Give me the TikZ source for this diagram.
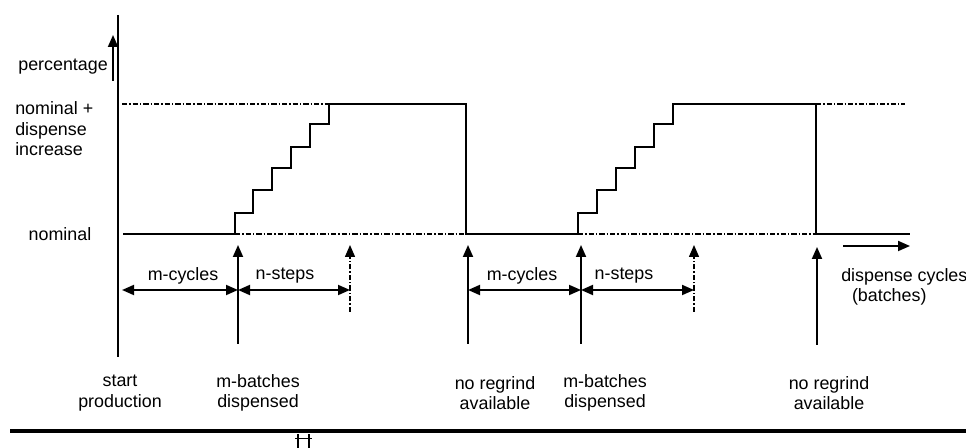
\documentclass[tikz,border=0pt]{standalone}
\usepackage{fontspec}
\setmainfont{Liberation Sans}
\usetikzlibrary{arrows.meta}
\begin{document}
\begin{tikzpicture}[x=0.75pt,y=-0.75pt,
  ln/.style={line width=1.4pt},
  dd/.style={line width=1.1pt,dash pattern=on 4pt off 1.5pt on 1pt off 1.5pt},
  tip/.style={-{Triangle[length=9pt,width=7.5pt]}},
  both/.style={{Triangle[length=9pt,width=7.5pt]}-{Triangle[length=9pt,width=7.5pt]}},
  lbl/.style={font=\fontsize{13.4}{15.3}\selectfont,inner sep=0pt,align=center}]
\useasboundingbox (0,0) rectangle (966,448);
% axis
\coordinate (axT) at (118,15);
\coordinate (axB) at (118,357);
\draw[ln] (axT) -- (axB);
\coordinate (pA) at (113,81);
\coordinate (pB) at (113,35);
\draw[ln,tip] (pA) -- (pB);
\node[lbl,anchor=east] (perc) at (108,67) {percentage};
\node[lbl,anchor=west,align=left] (nomp) at (15,129) {nominal +\\dispense\\increase};
\node[lbl] (nom) at (60,234) {nominal};
% reference lines
\draw[dd] (122,104) -- (329,104);
\draw[dd] (816,104) -- (905,104);
\draw[dd] (235,234) -- (466,234);
\draw[dd] (578,234) -- (816,234);
% signal
\draw[ln,line join=miter] (123,234) -- (235,234)
  -- (235,213) -- (253,213) -- (253,190) -- (272,190) -- (272,168) -- (291,168)
  -- (291,147) -- (310,147) -- (310,124) -- (329,124) -- (329,104) -- (466,104)
  -- (466,234) -- (578,234)
  -- (578,213) -- (597,213) -- (597,190) -- (616,190) -- (616,168) -- (635,168)
  -- (635,147) -- (654,147) -- (654,124) -- (673,124) -- (673,104) -- (816,104)
  -- (816,234) -- (910,234);
% event arrows
\coordinate (a1b) at (238,344); \coordinate (a1t) at (238,245);
\coordinate (d1b) at (350,312); \coordinate (d1t) at (350,245);
\coordinate (a2b) at (468,344); \coordinate (a2t) at (468,245);
\coordinate (a3b) at (581,344); \coordinate (a3t) at (581,245);
\coordinate (d2b) at (694,312); \coordinate (d2t) at (694,245);
\coordinate (a4b) at (817,345); \coordinate (a4t) at (817,247);
\draw[ln,tip] (a1b) -- (a1t);
\draw[ln,tip] (a2b) -- (a2t);
\draw[ln,tip] (a3b) -- (a3t);
\draw[ln,tip] (a4b) -- (a4t);
\draw[dd,tip] (d1b) -- (d1t);
\draw[dd,tip] (d2b) -- (d2t);
% spans
\coordinate (h0) at (122,290); \coordinate (h1) at (238,290); \coordinate (h2) at (350,290);
\coordinate (h3) at (468,290); \coordinate (h4) at (581,290); \coordinate (h5) at (694,290);
\draw[ln,both] (h0) -- (h1);
\draw[ln,both] (h1) -- (h2);
\draw[ln,both] (h3) -- (h4);
\draw[ln,both] (h4) -- (h5);
\node[lbl] (mc1) at (183,276) {m-cycles};
\node[lbl] (ns1) at (285,276) {n-steps};
\node[lbl] (mc2) at (522,276) {m-cycles};
\node[lbl] (ns2) at (624,276) {n-steps};
% x-axis direction
\coordinate (xa) at (843,246); \coordinate (xb) at (910,246);
\draw[ln,tip] (xa) -- (xb);
\node[lbl,anchor=north west,align=left] (dc) at (841,268) {dispense cycles\\\hspace*{0.6em}(batches)};
% bottom labels
\node[lbl] (sp) at (120,393) {start\\production};
\node[lbl] (mb1) at (258,393) {m-batches\\dispensed};
\node[lbl] (nr1) at (495,393) {no regrind\\available};
\node[lbl] (mb2) at (605,393) {m-batches\\dispensed};
\node[lbl] (nr2) at (829,393) {no regrind\\available};
% bottom rule
\coordinate (r0) at (10,431); \coordinate (r1) at (966,431);
\draw[line width=2.8pt] (r0) -- (r1);
\draw[line width=0.7pt] (295,438) -- (312,438);
\draw[line width=0.8pt] (298,434) -- (298,448);
\draw[line width=0.8pt] (309,434) -- (309,448);
\end{tikzpicture}
\end{document}
